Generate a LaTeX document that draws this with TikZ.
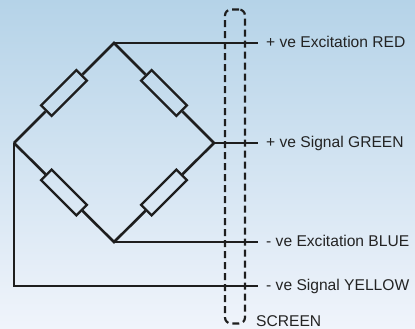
\documentclass[tikz,border=0pt]{standalone}
\usepackage{fontspec}
\setmainfont{Liberation Sans}
\usetikzlibrary{calc}
\definecolor{bgtop}{RGB}{181,211,232}
\definecolor{bgbot}{RGB}{240,244,251}
\definecolor{ink}{RGB}{30,30,30}
\definecolor{txt}{RGB}{35,35,35}
\begin{document}
\begin{tikzpicture}[x=1bp,y=-1bp,
  wire/.style={draw=ink,line width=2.6bp},
  resbox/.style={draw=ink,line width=2.3bp,rectangle,minimum width=50bp,minimum height=15bp,inner sep=0pt},
  lbl/.style={anchor=base west,text=txt,inner sep=0pt,font=\fontsize{15.6bp}{18bp}\selectfont},
  scrbox/.style={draw=ink,line width=2.2bp,dash pattern=on 7bp off 4bp,rounded corners=6bp,minimum width=20bp,minimum height=314bp,inner sep=0pt}]
\useasboundingbox (0,0) rectangle (415,329);
\shade[top color=bgtop,bottom color=bgbot] (0,0) rectangle (415,329);
% bridge corners
\coordinate (T) at (114,43);
\coordinate (L) at (14,143);
\coordinate (R) at (214,143);
\coordinate (B) at (114,242);
\coordinate (Y) at (14,286);
% wire ends
\coordinate (eT) at (258,43);
\coordinate (eR) at (258,143);
\coordinate (eB) at (258,242);
\coordinate (eY) at (258,286);
% resistors
\node[resbox,rotate=45] (r1) at ($(L)!0.5!(T)$) {};
\node[resbox,rotate=-45] (r2) at ($(T)!0.5!(R)$) {};
\node[resbox,rotate=-45] (r3) at ($(L)!0.5!(B)$) {};
\node[resbox,rotate=45] (r4) at ($(B)!0.5!(R)$) {};
\draw[wire,line join=miter] (L) -- (r1) (r1) -- (T) -- (r2) (r2) -- (R) -- (r4) (r4) -- (B) -- (r3) (r3) -- (L);
% leads
\draw[wire] (T) -- (eT);
\draw[wire] (R) -- (eR);
\draw[wire] (B) -- (eB);
\draw[wire] (L) -- (Y) -- (eY);
% screen
\node[scrbox] (scr) at (235,166.5) {};
% labels
\node[lbl] (tRed) at (266,47.5) {+ ve Excitation RED};
\node[lbl] (tGreen) at (266,147.5) {+ ve Signal GREEN};
\node[lbl] (tBlue) at (266,246.5) {- ve Excitation BLUE};
\node[lbl] (tYel) at (266,290.5) {- ve Signal YELLOW};
\node[lbl] (tScr) at (256,326.5) {SCREEN};
\end{tikzpicture}
\end{document}
